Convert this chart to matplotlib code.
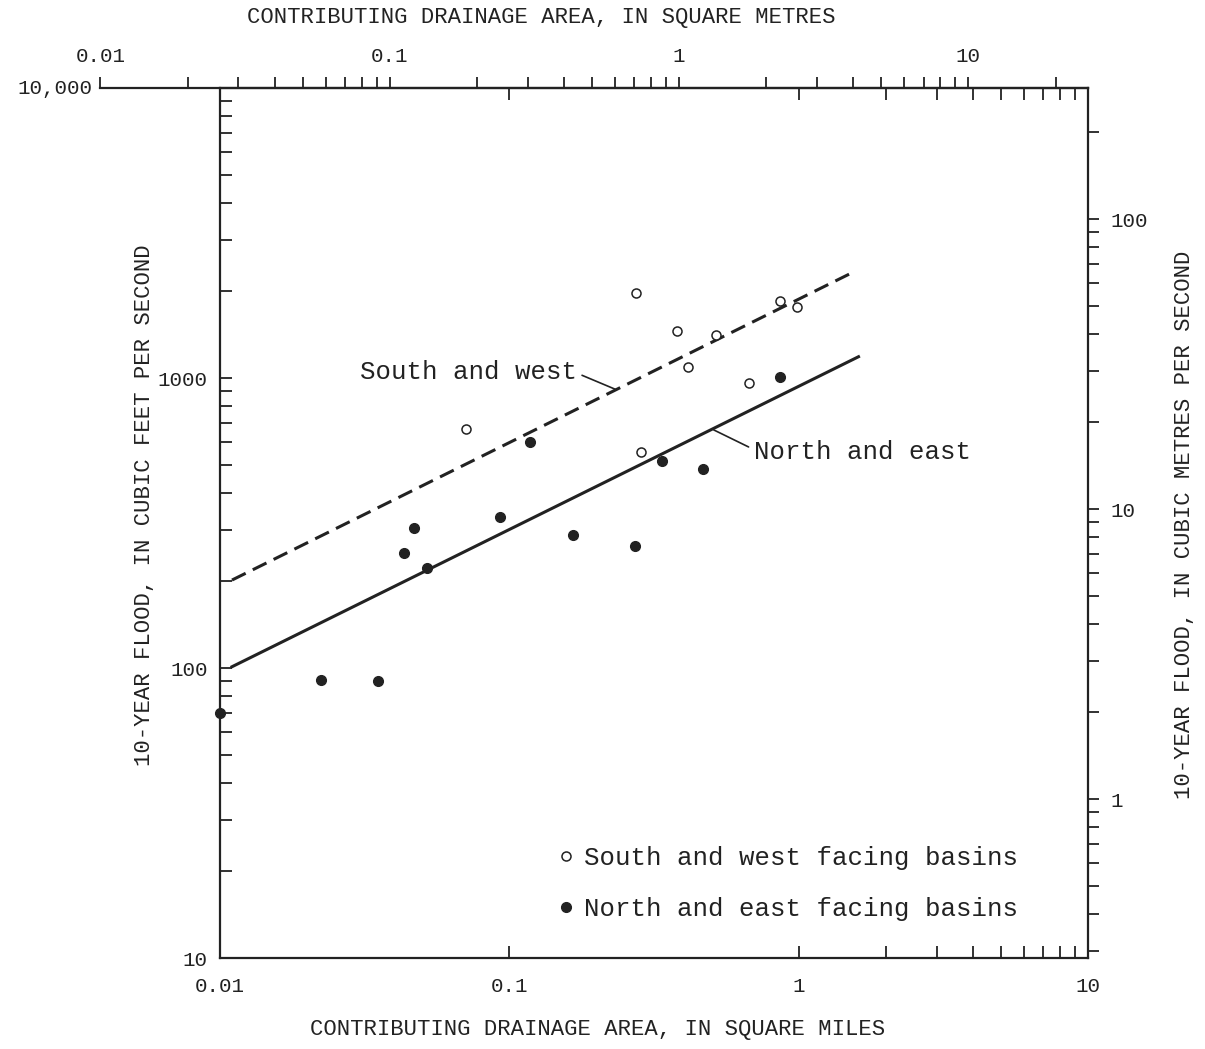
import numpy as np
import matplotlib.pyplot as plt
from matplotlib.lines import Line2D
from matplotlib.ticker import LogLocator, NullFormatter

plt.rcParams['font.family'] = ['Liberation Mono', 'DejaVu Sans Mono']

# values (area in sq mi, flood in ft3/s)
sw_area = [0.0711, 0.2735, 0.379, 0.413, 0.516, 0.673, 0.865, 0.99, 0.2845]
sw_flow = [665, 1970, 1456, 1094, 1407, 963, 1849, 1762, 554]
ne_area = [0.01, 0.0223, 0.0351, 0.0434, 0.047, 0.0519, 0.0926, 0.118,
           0.1659, 0.271, 0.338, 0.467, 0.859]
ne_flow = [70, 91, 90, 249, 303, 221, 332, 603, 287, 263, 516, 485, 1005]

# fitted lines, end points
sw_line_area = [0.011, 1.52]
sw_line_flow = [201, 2300]
ne_line_area = [0.011, 1.61]
ne_line_flow = [101, 1184]

x_ticks = [0.01, 0.1, 1, 10]
x_labels = ['0.01', '0.1', '1', '10']
y_ticks = [10, 100, 1000, 10000]
y_labels = ['10', '100', '1000', '']
km_ticks = [0.01, 0.1, 1, 10]
km_labels = ['0.01', '0.1', '1', '10']
cms_ticks = [1, 10, 100]
cms_labels = ['1', '10', '100']

SQMI_TO_KM2 = 2.58999
CFS_TO_CMS = 0.0283168

ink = '#222222'
W, H = 1205, 1049
fig = plt.figure(figsize=(W / 100, H / 100), dpi=100)

L, R, B, T = 220 / W, 1088 / W, 1 - 958 / H, 1 - 88 / H
ax = fig.add_axes([L, B, R - L, T - B])
ax.set_xscale('log')
ax.set_yscale('log')
ax.set_xlim(0.01, 10)
ax.set_ylim(10, 10000)
for s in ax.spines.values():
    s.set_linewidth(1.6)
    s.set_color(ink)

sub = LogLocator(base=10, subs=np.arange(2, 10))
ax.xaxis.set_minor_locator(sub)
ax.yaxis.set_minor_locator(sub)
ax.xaxis.set_minor_formatter(NullFormatter())
ax.yaxis.set_minor_formatter(NullFormatter())
ax.set_xticks(x_ticks, x_labels)
ax.set_yticks(y_ticks, y_labels)
ax.tick_params(which='both', direction='in', top=True, right=True,
               labeltop=False, labelright=False, length=8.5, width=1.3,
               color=ink, labelcolor=ink, labelsize=15)
ax.tick_params(axis='x', pad=14)
ax.tick_params(axis='y', pad=9)

# right axis, cubic metres per second
ax2 = ax.twinx()
ax2.set_yscale('log')
ax2.set_ylim(10 * CFS_TO_CMS, 10000 * CFS_TO_CMS)
ax2.yaxis.set_minor_locator(LogLocator(base=10, subs=np.arange(2, 10)))
ax2.yaxis.set_minor_formatter(NullFormatter())
ax2.set_yticks(cms_ticks, cms_labels)
ax2.tick_params(which='both', direction='out', length=8, width=1.3,
                color=ink, labelcolor=ink, labelsize=15, pad=8)
for s in ax2.spines.values():
    s.set_visible(False)

# top axis, square kilometres, extended to the left of the frame
Lx = L - (R - L) / 3 * np.log10(SQMI_TO_KM2)
axt = fig.add_axes([Lx, T, R - Lx, 1e-4])
axt.patch.set_visible(False)
axt.set_xscale('log')
axt.set_xlim(0.01, 10 * SQMI_TO_KM2)
axt.yaxis.set_visible(False)
for k in ['left', 'right', 'bottom']:
    axt.spines[k].set_visible(False)
axt.spines['top'].set_linewidth(1.6)
axt.spines['top'].set_color(ink)
axt.xaxis.set_ticks_position('top')
axt.xaxis.set_label_position('top')
axt.xaxis.set_minor_locator(LogLocator(base=10, subs=np.arange(2, 10)))
axt.xaxis.set_minor_formatter(NullFormatter())
axt.set_xticks(km_ticks, km_labels)
axt.tick_params(which='both', direction='out', length=8, width=1.3,
                color=ink, labelcolor=ink, labelsize=15, pad=8)

fig.text(Lx - 8 / W, T, '10,000', ha='right', va='center', fontsize=15, color=ink)

# fitted lines
ax.plot(sw_line_area, sw_line_flow, color=ink, lw=2.2, ls=(0, (5, 2.6)))
ax.plot(ne_line_area, ne_line_flow, color=ink, lw=2.2)

# observations
ax.plot(sw_area, sw_flow, 'o', ms=6.5, mfc='white', mec=ink, mew=1.1, clip_on=False)
ax.plot(ne_area, ne_flow, 'o', ms=7, mfc=ink, mec=ink, clip_on=False)

ax.annotate('South and west', xy=(0.232, 915), xytext=(0.0304, 1050),
            ha='left', va='center', fontsize=18.5, color=ink,
            arrowprops=dict(arrowstyle='-', color=ink, lw=1.2,
                            relpos=(1, 0.45), shrinkA=2, shrinkB=0))
ax.annotate('North and east', xy=(0.509, 662), xytext=(0.70, 556),
            ha='left', va='center', fontsize=18.5, color=ink,
            arrowprops=dict(arrowstyle='-', color=ink, lw=1.2,
                            relpos=(0, 0.6), shrinkA=2, shrinkB=0))

handles = [Line2D([], [], ls='', marker='o', ms=6.5, mfc='white', mec=ink, mew=1.1),
           Line2D([], [], ls='', marker='o', ms=7, mfc=ink, mec=ink)]
ax.legend(handles, ['South and west facing basins', 'North and east facing basins'],
          loc='upper left', bbox_to_anchor=((548 - 220) / 868, (958 - 836) / 870),
          frameon=False, fontsize=18.5, handlelength=0.6, handletextpad=0.4,
          labelspacing=1.05, borderaxespad=0, labelcolor=ink)

# axis titles
fig.text(541 / W, 1 - 18 / H, 'CONTRIBUTING DRAINAGE AREA, IN SQUARE METRES',
         ha='center', va='center', fontsize=16, color=ink)
fig.text(598 / W, 1 - 1030 / H, 'CONTRIBUTING DRAINAGE AREA, IN SQUARE MILES',
         ha='center', va='center', fontsize=16, color=ink)
fig.text(145 / W, 1 - 505 / H, '10-YEAR FLOOD, IN CUBIC FEET PER SECOND',
         ha='center', va='center', rotation=90, fontsize=16, color=ink)
fig.text(1185 / W, 1 - 525 / H, '10-YEAR FLOOD, IN CUBIC METRES PER SECOND',
         ha='center', va='center', rotation=90, fontsize=16, color=ink)

fig.savefig('out.png', dpi=100, facecolor='white')
